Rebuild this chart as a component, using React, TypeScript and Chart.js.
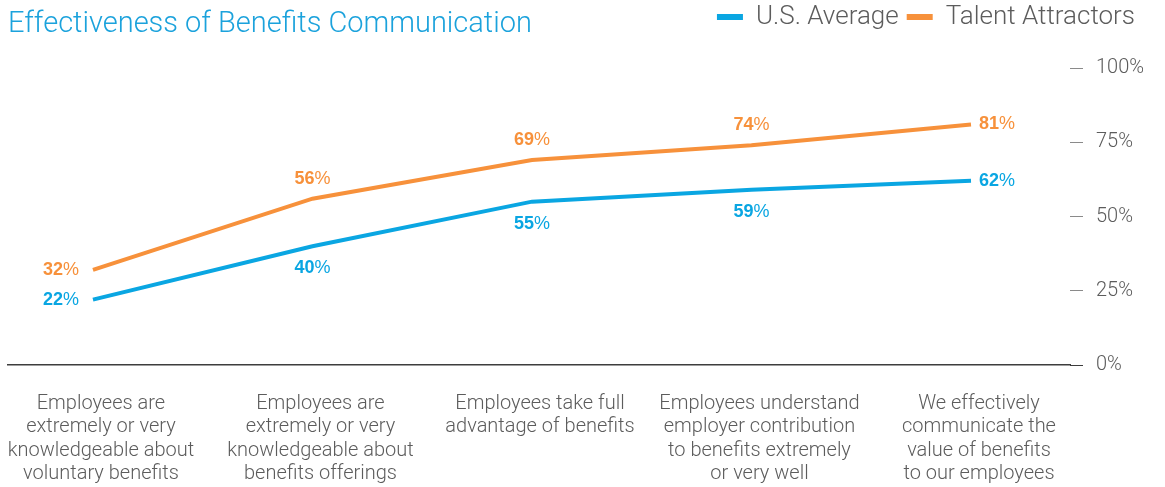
import React, { useEffect, useRef } from 'react';
import { Chart, registerables } from 'chart.js';

Chart.register(...registerables);

const TITLE = 'Effectiveness of Benefits Communication';
const CATEGORIES: string[][] = [
  ['Employees are', 'extremely or very', 'knowledgeable about', 'voluntary benefits'],
  ['Employees are', 'extremely or very', 'knowledgeable about', 'benefits offerings'],
  ['Employees take full', 'advantage of benefits'],
  ['Employees understand', 'employer contribution', 'to benefits extremely', 'or very well'],
  ['We effectively', 'communicate the', 'value of benefits', 'to our employees'],
];
const SERIES_NAMES = ['U.S. Average', 'Talent Attractors'];
const US_AVERAGE = [22, 40, 55, 59, 62];
const TALENT_ATTRACTORS = [32, 56, 69, 74, 81];
const Y_TICKS = [0, 25, 50, 75, 100];

const BLUE = '#0aa6e2';
const ORANGE = '#f7913b';
const TEXT_GRAY = '#5c5c5c';
const FONT = "'Roboto', 'Liberation Sans', sans-serif";
const BOLD_FONT = "'Liberation Sans', Arial, sans-serif";

const legendHeightPlugin = {
  id: 'legendHeight',
  beforeLayout(chart: any, _args: any, opts: any) {
    const lg = chart.legend;
    if (lg && !lg.__patched) {
      const orig = lg.fit;
      lg.fit = function () {
        orig.call(this);
        this.height = opts.height;
      };
      lg.__patched = true;
    }
  },
};

const pointLabelPlugin = {
  id: 'pointLabels',
  afterDatasetsDraw(chart: any, _args: any, opts: any) {
    const ctx = chart.ctx;
    chart.data.datasets.forEach((ds: any, di: number) => {
      const meta = chart.getDatasetMeta(di);
      const places: string[] = opts.placement[di];
      meta.data.forEach((pt: any, i: number) => {
        const v = ds.data[i].y;
        const num = String(v);
        ctx.save();
        ctx.font = `bold 18px ${BOLD_FONT}`;
        const wNum = ctx.measureText(num).width;
        ctx.font = `18px ${BOLD_FONT}`;
        const wPct = ctx.measureText('%').width;
        const w = wNum + wPct;
        let x0 = pt.x - w / 2;
        let yc = pt.y;
        const place = places[i];
        if (place === 'left') x0 = pt.x - 14 - w;
        else if (place === 'right') x0 = pt.x + 8;
        else if (place === 'above') yc = pt.y - 20;
        else if (place === 'below') yc = pt.y + 22;
        ctx.fillStyle = ds.borderColor;
        ctx.textBaseline = 'middle';
        ctx.textAlign = 'left';
        ctx.font = `bold 18px ${BOLD_FONT}`;
        ctx.fillText(num, x0, yc);
        ctx.font = `18px ${BOLD_FONT}`;
        ctx.fillText('%', x0 + wNum, yc);
        ctx.restore();
      });
    });
  },
};

export default function App() {
  const canvasRef = useRef<HTMLCanvasElement | null>(null);

  useEffect(() => {
    if (!canvasRef.current) return;
    const chart = new Chart(canvasRef.current, {
      type: 'line',
      data: {
        datasets: [
          {
            label: SERIES_NAMES[0],
            data: US_AVERAGE.map((y, x) => ({ x, y })),
            borderColor: BLUE,
            backgroundColor: BLUE,
            borderWidth: 4,
            pointRadius: 0,
            tension: 0,
          },
          {
            label: SERIES_NAMES[1],
            data: TALENT_ATTRACTORS.map((y, x) => ({ x, y })),
            borderColor: ORANGE,
            backgroundColor: ORANGE,
            borderWidth: 4,
            pointRadius: 0,
            tension: 0,
          },
        ],
      },
      options: {
        animation: false,
        responsive: true,
        maintainAspectRatio: false,
        layout: { padding: { left: 8, right: 22, top: -4, bottom: 3 } },
        plugins: {
          title: { display: false },
          tooltip: { enabled: false },
          legendHeight: { height: 72 },
          legend: {
            display: true,
            position: 'top',
            align: 'end',
            labels: {
              font: { family: FONT, size: 26, weight: '300' },
              color: TEXT_GRAY,
              boxWidth: 26,
              boxHeight: 6,
              padding: 8,
              generateLabels: (c: any) =>
                Chart.defaults.plugins.legend.labels
                  .generateLabels(c)
                  .map((l: any) => ({ ...l, lineWidth: 0 })),
            },
          },
          pointLabels: {
            placement: [
              ['left', 'below', 'below', 'below', 'right'],
              ['left', 'above', 'above', 'above', 'right'],
            ],
          },
        } as any,
        scales: {
          x: {
            type: 'linear',
            min: -0.387,
            max: 4.451,
            afterBuildTicks: (scale: any) => {
              scale.ticks = CATEGORIES.map((_, i) => ({ value: i }));
            },
            afterFit: (scale: any) => {
              scale.paddingLeft = 0;
              scale.paddingRight = 0;
              scale.height = 119;
            },
            grid: { display: false, drawTicks: false },
            border: { display: true, color: '#3d3d3d', width: 1.5 },
            ticks: {
              autoSkip: false,
              maxRotation: 0,
              padding: 27,
              labelOffset: 8,
              color: TEXT_GRAY,
              font: { family: FONT, size: 20, weight: '300', lineHeight: 1.17 },
              callback: (v: any) => CATEGORIES[v as number] ?? '',
            },
          },
          y: {
            position: 'right',
            min: 0,
            max: 100,
            afterBuildTicks: (scale: any) => {
              scale.ticks = Y_TICKS.map((value) => ({ value }));
            },
            afterFit: (scale: any) => {
              scale.width = 73;
            },
            grid: {
              display: true,
              drawOnChartArea: false,
              drawTicks: true,
              tickLength: 13,
              tickColor: (c: any) => (c.tick && c.tick.value === 0 ? '#3d3d3d' : '#8a8a8a'),
              lineWidth: 1,
            },
            border: { display: false },
            ticks: {
              padding: 13,
              color: TEXT_GRAY,
              font: { family: FONT, size: 20, weight: '300' },
              callback: (v: any) => `${v}%`,
            },
          },
        },
      },
      plugins: [legendHeightPlugin, pointLabelPlugin],
    } as any);
    return () => chart.destroy();
  }, []);

  return (
    <div style={{ position: 'fixed', left: 0, top: 0, width: 1165, height: 487, background: '#fff' }}>
      <canvas ref={canvasRef} />
      <div
        style={{
          position: 'absolute',
          left: 8,
          top: 8,
          fontFamily: FONT,
          fontWeight: 300,
          fontSize: 29,
          lineHeight: '28px',
          color: '#1ba2dc',
          whiteSpace: 'nowrap',
        }}
      >
        {TITLE}
      </div>
    </div>
  );
}
